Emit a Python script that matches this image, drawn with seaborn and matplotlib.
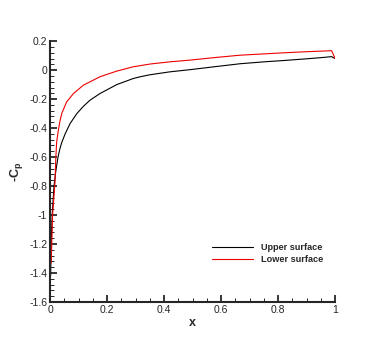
import matplotlib
matplotlib.use('Agg')
import matplotlib.pyplot as plt
from matplotlib.ticker import MultipleLocator, FuncFormatter
import seaborn as sns
import pandas as pd

# pressure distribution
x_upper = [0.002, 0.004, 0.008, 0.014, 0.02, 0.028, 0.035, 0.041, 0.053, 0.07,
           0.094, 0.117, 0.14, 0.175, 0.234, 0.292, 0.316, 0.351, 0.42, 0.491,
           0.58, 0.667, 0.75, 0.825, 0.9, 0.95, 0.988, 1.0]
cp_upper = [-1.42, -1.2, -0.98, -0.8, -0.7, -0.6, -0.54, -0.5, -0.44, -0.37,
            -0.30, -0.25, -0.208, -0.162, -0.1, -0.058, -0.046, -0.032, -0.012, 0.003,
            0.024, 0.044, 0.057, 0.067, 0.078, 0.086, 0.093, 0.08]

x_lower = [0.004, 0.006, 0.009, 0.0175, 0.02, 0.023, 0.029, 0.035, 0.041,
           0.058, 0.082, 0.117, 0.175, 0.234, 0.292, 0.351, 0.42, 0.491, 0.58,
           0.667, 0.75, 0.825, 0.9, 0.988, 1.0]
cp_lower = [-1.33, -1.2, -1.0, -0.77, -0.62, -0.5, -0.416, -0.35, -0.30,
            -0.22, -0.162, -0.104, -0.046, -0.007, 0.023, 0.042, 0.057, 0.069, 0.087,
            0.103, 0.112, 0.12, 0.127, 0.134, 0.082]

x_ticks = [0, 0.2, 0.4, 0.6, 0.8, 1.0]
y_ticks = [-1.6, -1.4, -1.2, -1.0, -0.8, -0.6, -0.4, -0.2, 0, 0.2]

df = pd.concat([
    pd.DataFrame({'x': x_upper, 'cp': cp_upper, 'surface': 'Upper surface'}),
    pd.DataFrame({'x': x_lower, 'cp': cp_lower, 'surface': 'Lower surface'}),
])

sns.set_style('ticks')
plt.rcParams['font.family'] = ['Liberation Sans', 'DejaVu Sans']
plt.rcParams['mathtext.fontset'] = 'custom'
plt.rcParams['mathtext.rm'] = 'Liberation Sans'
plt.rcParams['mathtext.bf'] = 'Liberation Sans:bold'
plt.rcParams['axes.unicode_minus'] = False

fig = plt.figure(figsize=(3.82, 3.40), dpi=100)
ax = fig.add_axes([0.131, 0.112, 0.746, 0.767])

sns.lineplot(data=df, x='x', y='cp', hue='surface', sort=False, estimator=None,
             palette={'Upper surface': 'black', 'Lower surface': '#ee0000'},
             linewidth=0.8, ax=ax)

ax.set_xlim(0, 1)
ax.set_ylim(-1.6, 0.2)
ax.set_xticks(x_ticks)
ax.set_yticks(y_ticks)
ax.xaxis.set_minor_locator(MultipleLocator(0.05))
ax.yaxis.set_minor_locator(MultipleLocator(0.04))
fmt = FuncFormatter(lambda v, p: '%g' % round(v, 2))
ax.xaxis.set_major_formatter(fmt)
ax.yaxis.set_major_formatter(fmt)

ax.tick_params(which='major', direction='in', length=5, width=1.3, labelsize=7.5, pad=2)
ax.tick_params(which='minor', direction='in', length=2.8, width=0.7)
for s in ['left', 'bottom']:
    ax.spines[s].set_linewidth(1.5)
sns.despine(ax=ax)

ax.set_xlabel('x', fontsize=9, fontweight='bold', labelpad=2)
ax.set_ylabel(r'-C$_\mathbf{p}$', fontsize=9, fontweight='bold', labelpad=3)

ax.legend(loc='upper left', bbox_to_anchor=(0.555, 0.284), bbox_transform=fig.transFigure,
          frameon=False, borderpad=0, borderaxespad=0, handlelength=4.5,
          prop={'size': 6.6, 'weight': 'bold'}, labelspacing=0.3, handletextpad=0.85)

plt.savefig('out.png', dpi=100)
plt.close()
